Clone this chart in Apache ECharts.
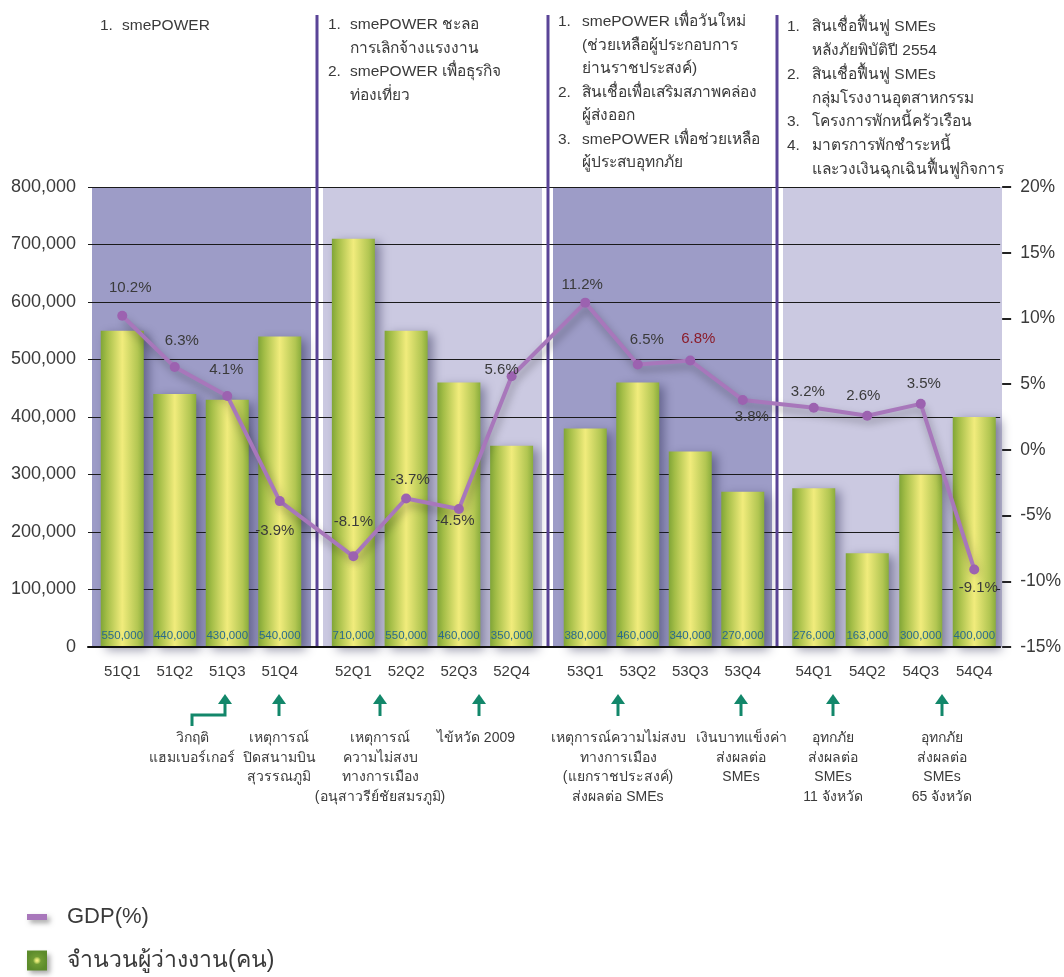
<!DOCTYPE html>
<html><head><meta charset="utf-8">
<script src="https://cdn.jsdelivr.net/npm/echarts@6/dist/echarts.min.js"></script>
<style>html,body{margin:0;padding:0;background:#fff}#c{width:1064px;height:977px}</style>
</head><body><div id="c"></div>
<script>
// ---------------- DATA ----------------
const quarters = [
  ['51Q1','51Q2','51Q3','51Q4'],
  ['52Q1','52Q2','52Q3','52Q4'],
  ['53Q1','53Q2','53Q3','53Q4'],
  ['54Q1','54Q2','54Q3','54Q4']
];
const unemployed = [
  [550000, 440000, 430000, 540000],
  [710000, 550000, 460000, 350000],
  [380000, 460000, 340000, 270000],
  [276000, 163000, 300000, 400000]
];
const gdp = [
  [10.2, 6.3, 4.1, -3.9],
  [-8.1, -3.7, -4.5, 5.6],
  [11.2, 6.5, 6.8, 3.8],
  [3.2, 2.6, 3.5, -9.1]
];
const leftAxis = {min: 0, max: 800000, step: 100000};
const rightAxis = {min: -15, max: 20, step: 5};
const seriesNames = ['GDP(%)', 'จำนวนผู้ว่างงาน(คน)'];
const measures = [
  [['1.', 'smePOWER']],
  [['1.', 'smePOWER ชะลอ'], ['', 'การเลิกจ้างแรงงาน'], ['2.', 'smePOWER เพื่อธุรกิจ'], ['', 'ท่องเที่ยว']],
  [['1.', 'smePOWER เพื่อวันใหม่'], ['', '(ช่วยเหลือผู้ประกอบการ'], ['', 'ย่านราชประสงค์)'],
   ['2.', 'สินเชื่อเพื่อเสริมสภาพคล่อง'], ['', 'ผู้ส่งออก'], ['3.', 'smePOWER เพื่อช่วยเหลือ'], ['', 'ผู้ประสบอุทกภัย']],
  [['1.', 'สินเชื่อฟื้นฟู SMEs'], ['', 'หลังภัยพิบัติปี 2554'], ['2.', 'สินเชื่อฟื้นฟู SMEs'],
   ['', 'กลุ่มโรงงานอุตสาหกรรม'], ['3.', 'โครงการพักหนี้ครัวเรือน'], ['4.', 'มาตรการพักชำระหนี้'], ['', 'และวงเงินฉุกเฉินฟื้นฟูกิจการ']]
];
const events = [
  ['วิกฤติ', 'แฮมเบอร์เกอร์'],
  ['เหตุการณ์', 'ปิดสนามบิน', 'สุวรรณภูมิ'],
  ['เหตุการณ์', 'ความไม่สงบ', 'ทางการเมือง', '(อนุสาวรีย์ชัยสมรภูมิ)'],
  ['ไข้หวัด 2009'],
  ['เหตุการณ์ความไม่สงบ', 'ทางการเมือง', '(แยกราชประสงค์)', 'ส่งผลต่อ SMEs'],
  ['เงินบาทแข็งค่า', 'ส่งผลต่อ', 'SMEs'],
  ['อุทกภัย', 'ส่งผลต่อ', 'SMEs', '11 จังหวัด'],
  ['อุทกภัย', 'ส่งผลต่อ', 'SMEs', '65 จังหวัด']
];

// ---------------- LAYOUT / STYLE ----------------
const FONT = 'Helvetica, Arial, "Liberation Sans", "Noto Sans", sans-serif';
const TXT = '#3a3a3a';
const TOP = 187, H = 460;
const gridLefts = [96, 327, 559, 787];
const gridWidths = [210, 211, 210, 214];
const panelX = [92, 323, 553, 783], panelW = 219;
const panelColors = ['#9d9cc7', '#cbc9e1', '#9d9cc7', '#cbc9e1'];
const dividerX = [317, 548, 777];
const blockX = [[100, 122], [328, 350], [558, 582], [787, 812]];
const blockY = [[26, 23.5], [25, 23.5], [22, 23.5], [27, 23.8]];
const arrowX = [225, 279, 380, 479, 618, 741, 833, 942];
const eventX = [192, 279, 380, 476, 618, 741, 833, 942];
const labelOffsets = [
  [[8, -28], [7, -26], [-1, -26], [-5, 30]],
  [[0, -34], [4, -19], [-4, 12], [-10, -6]],
  [[-3, -18], [9, -25], [8, -22], [9, 17]],
  [[-6, -16], [-4, -20], [3, -20], [4, 18]]
];
const labelColors = [[null, null, null, null], [null, null, null, null], [null, null, '#8b1c2a', null], [null, null, null, null]];

const barGrad = new echarts.graphic.LinearGradient(0, 0, 1, 0, [
  {offset: 0, color: '#80a537'}, {offset: 0.14, color: '#a3bd47'},
  {offset: 0.5, color: '#f1ec7c'}, {offset: 0.86, color: '#b2c652'}, {offset: 1, color: '#8aad3c'}
]);
const LINE_C = '#a877bb';

const chart = echarts.init(document.getElementById('c'));

const grid = gridLefts.map((l, i) => ({left: l, top: TOP, width: gridWidths[i], height: H}));
grid.push({left: 88, top: TOP, width: 914, height: H});

const xAxis = quarters.map((q, i) => ({
  type: 'category', gridIndex: i, data: q,
  axisLine: {show: false}, axisTick: {show: false},
  axisLabel: {fontSize: 15, color: TXT, margin: 17, fontFamily: FONT}
}));
xAxis.push({type: 'value', gridIndex: 4, min: 0, max: 1, z: 3,
  axisLabel: {show: false}, axisTick: {show: false}, splitLine: {show: false},
  axisLine: {show: true, lineStyle: {color: '#111', width: 2}}});

const yAxis = [];
quarters.forEach((q, i) => {
  yAxis.push({type: 'value', gridIndex: i, min: leftAxis.min, max: leftAxis.max, interval: leftAxis.step, show: false});
  yAxis.push({type: 'value', gridIndex: i, min: rightAxis.min, max: rightAxis.max, interval: rightAxis.step, show: false});
});
yAxis.push({type: 'value', gridIndex: 4, position: 'left', z: 1,
  min: leftAxis.min, max: leftAxis.max, interval: leftAxis.step,
  axisLine: {show: false}, axisTick: {show: false},
  axisLabel: {fontSize: 18, color: TXT, margin: 12, fontFamily: FONT, formatter: v => v.toLocaleString('en-US')},
  splitLine: {show: true, lineStyle: {color: '#1a1a1a', width: 1}}});
yAxis.push({type: 'value', gridIndex: 4, position: 'right', offset: 2, z: 1,
  min: rightAxis.min, max: rightAxis.max, interval: rightAxis.step,
  axisLine: {show: false},
  axisTick: {show: true, length: 9, lineStyle: {color: '#222', width: 2}},
  axisLabel: {fontSize: 17.5, color: TXT, margin: 18, fontFamily: FONT, formatter: '{value}%'},
  splitLine: {show: false}});

const series = [];
quarters.forEach((q, i) => {
  series.push({
    type: 'bar', name: seriesNames[1], xAxisIndex: i, yAxisIndex: 2 * i, data: unemployed[i],
    barWidth: 43, z: 2,
    itemStyle: {color: barGrad, shadowBlur: 10, shadowColor: 'rgba(30,30,70,0.45)', shadowOffsetX: 5, shadowOffsetY: 3},
    label: {show: true, position: 'insideBottom', distance: 5, fontSize: 11.5, color: '#2a6a8c', fontFamily: FONT,
      formatter: p => Number(p.value).toLocaleString('en-US')}
  });
});
quarters.forEach((q, i) => {
  series.push({
    type: 'line', name: seriesNames[0], xAxisIndex: i, yAxisIndex: 2 * i + 1, z: 6,
    data: gdp[i].map((v, j) => ({value: v, label: Object.assign({offset: labelOffsets[i][j]}, labelColors[i][j] ? {color: labelColors[i][j]} : {})})),
    symbol: 'circle', symbolSize: 10,
    itemStyle: {color: '#9c62b0'},
    lineStyle: {color: LINE_C, width: 4, shadowColor: 'rgba(0,0,0,0.35)', shadowBlur: 8, shadowOffsetX: 2, shadowOffsetY: 5},
    label: {show: true, position: 'inside', formatter: '{c}%', fontSize: 15, color: TXT, fontFamily: FONT}
  });
});

chart.setOption({
  animation: false,
  backgroundColor: '#fff',
  textStyle: {fontFamily: FONT},
  grid, xAxis, yAxis, series,
  legend: [
    {data: [{name: seriesNames[0], icon: 'rect', itemStyle: {color: LINE_C, shadowBlur: 5, shadowColor: 'rgba(0,0,0,0.35)', shadowOffsetX: 3, shadowOffsetY: 3}}],
     left: 27, top: 906, padding: 0, itemWidth: 20, itemHeight: 6, selectedMode: false,
     textStyle: {fontSize: 22, color: TXT, fontFamily: FONT, padding: [0, 0, 0, 15]}},
    {data: [{name: seriesNames[1], icon: 'rect', itemStyle: {
        color: new echarts.graphic.RadialGradient(0.5, 0.5, 0.5, [
          {offset: 0, color: '#fff58a'}, {offset: 0.18, color: '#cfdc6a'}, {offset: 0.4, color: '#6f9b34'}, {offset: 1, color: '#5c8b2b'}]),
        shadowBlur: 5, shadowColor: 'rgba(0,0,0,0.35)', shadowOffsetX: 3, shadowOffsetY: 3}}],
     left: 27, top: 949, padding: 0, itemWidth: 20, itemHeight: 20, selectedMode: false,
     textStyle: {fontSize: 23, color: TXT, fontFamily: FONT, padding: [0, 0, 0, 15]}}
  ]
});

// ---------------- DECORATION ----------------
const g = [];
panelX.forEach((x, i) => g.push({type: 'rect', id: 'panel' + i, z: 0, silent: true,
  shape: {x: x, y: TOP, width: panelW, height: H}, style: {fill: panelColors[i]}}));
dividerX.forEach((x, i) => g.push({type: 'line', id: 'div' + i, z: 1, silent: true,
  shape: {x1: x, y1: 15, x2: x, y2: TOP + H}, style: {stroke: '#5a4497', lineWidth: 3}}));
measures.forEach((blk, b) => blk.forEach((row, r) => {
  const y = blockY[b][0] + r * blockY[b][1];
  if (row[0]) g.push({type: 'text', id: 'mn' + b + '_' + r, x: blockX[b][0], y: y, z: 3,
    style: {text: row[0], fontSize: 15.5, fontFamily: FONT, fill: TXT, textAlign: 'left', textVerticalAlign: 'middle'}});
  g.push({type: 'text', id: 'mt' + b + '_' + r, x: blockX[b][1], y: y, z: 3,
    style: {text: row[1], fontSize: 15.5, fontFamily: FONT, fill: TXT, textAlign: 'left', textVerticalAlign: 'middle'}});
}));
const AC = '#12876a';
arrowX.forEach((x, i) => {
  g.push({type: 'polygon', id: 'ah' + i, z: 3, shape: {points: [[x - 7, 704], [x + 7, 704], [x, 694]]}, style: {fill: AC}});
  if (i === 0) {
    g.push({type: 'polyline', id: 'as' + i, z: 3, shape: {points: [[x, 703], [x, 715], [eventX[0], 715], [eventX[0], 726]]},
      style: {stroke: AC, lineWidth: 3, fill: null}});
  } else {
    g.push({type: 'line', id: 'as' + i, z: 3, shape: {x1: x, y1: 703, x2: x, y2: 716}, style: {stroke: AC, lineWidth: 3}});
  }
});
events.forEach((lines, i) => lines.forEach((t, r) => g.push({type: 'text', id: 'ev' + i + '_' + r, x: eventX[i], y: 738 + r * 19.8, z: 3,
  style: {text: t, fontSize: 14, fontFamily: FONT, fill: TXT, textAlign: 'center', textVerticalAlign: 'middle'}})));

// connectors of the GDP line between year panels (through the library's scales)
for (let k = 0; k < 3; k++) {
  const p1 = chart.convertToPixel({seriesIndex: 4 + k}, [3, gdp[k][3]]);
  const p2 = chart.convertToPixel({seriesIndex: 5 + k}, [0, gdp[k + 1][0]]);
  g.push({type: 'line', id: 'conn' + k, z: 5, silent: true,
    shape: {x1: p1[0], y1: p1[1], x2: p2[0], y2: p2[1]},
    style: {stroke: LINE_C, lineWidth: 4, shadowColor: 'rgba(0,0,0,0.35)', shadowBlur: 8, shadowOffsetX: 2, shadowOffsetY: 5}});
}
chart.setOption({graphic: g});
</script>
</body></html>
